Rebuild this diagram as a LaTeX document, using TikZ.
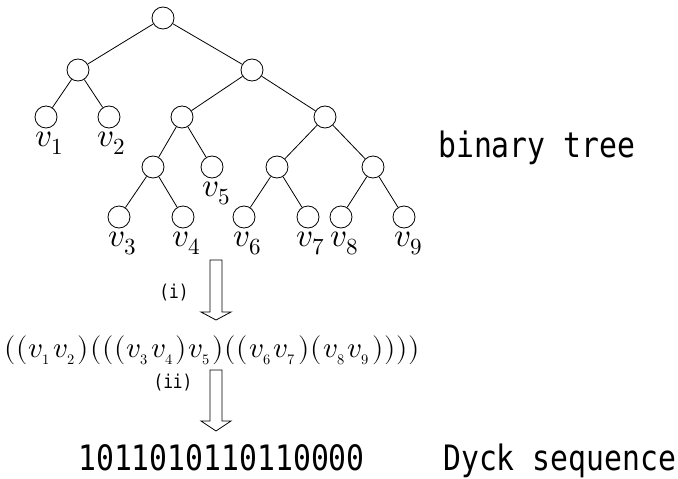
\documentclass[tikz,border=0pt]{standalone}
\usepackage{fontspec}
\usepackage{unicode-math}
\setmathfont{Latin Modern Math}
\newfontfamily\gothic[FakeStretch=0.85]{DejaVu Sans Mono}
\newcommand\vsub[1]{v_{\scriptscriptstyle #1}\kern3pt}
\newcommand\lp{(\kern0.8pt}
\newcommand\rp{)\kern0.8pt}
\tikzset{
  vert/.style={circle,draw,minimum size=22pt,inner sep=0pt,line width=0.8pt},
  vlab/.style={anchor=north,inner sep=0pt,font=\fontsize{33}{36}\selectfont},
  edge/.style={line width=0.8pt},
  hollow/.style={draw,line width=0.8pt,fill=white},
  gtext/.style={inner sep=0pt,font=\gothic\fontsize{35}{40}\selectfont},
  stext/.style={inner sep=0pt,font=\gothic\fontsize{19}{21}\selectfont}
}
\begin{document}
\begin{tikzpicture}[x=1pt,y=-1pt]
\useasboundingbox (0,0) rectangle (678,479);
% tree nodes
\node[vert] (r) at (163,18) {};
\node[vert] (a) at (78,70) {};
\node[vert] (b) at (252,70) {};
\node[vert] (v1) at (46,117) {};
\node[vert] (v2) at (109,117) {};
\node[vert] (c) at (182,117) {};
\node[vert] (d) at (325,117) {};
\node[vert] (e) at (153,167) {};
\node[vert] (v5) at (212,167) {};
\node[vert] (f) at (277,167) {};
\node[vert] (g) at (373,167) {};
\node[vert] (v3) at (119,217) {};
\node[vert] (v4) at (183,217) {};
\node[vert] (v6) at (244,217) {};
\node[vert] (v7) at (308,217) {};
\node[vert] (v8) at (341,217) {};
\node[vert] (v9) at (404,217) {};
% edges
\draw[edge] (r) -- (a);
\draw[edge] (r) -- (b);
\draw[edge] (a) -- (v1);
\draw[edge] (a) -- (v2);
\draw[edge] (b) -- (c);
\draw[edge] (b) -- (d);
\draw[edge] (c) -- (e);
\draw[edge] (c) -- (v5);
\draw[edge] (d) -- (f);
\draw[edge] (d) -- (g);
\draw[edge] (e) -- (v3);
\draw[edge] (e) -- (v4);
\draw[edge] (f) -- (v6);
\draw[edge] (f) -- (v7);
\draw[edge] (g) -- (v8);
\draw[edge] (g) -- (v9);
% labels
\node[vlab] (l1) at ([xshift=4pt,yshift=-3pt]v1.south) {$v_1$};
\node[vlab] (l2) at ([xshift=3pt,yshift=-3pt]v2.south) {$v_2$};
\node[vlab] (l3) at ([xshift=4pt,yshift=-3pt]v3.south) {$v_3$};
\node[vlab] (l4) at ([xshift=4pt,yshift=-3pt]v4.south) {$v_4$};
\node[vlab] (l5) at ([xshift=5pt,yshift=-3pt]v5.south) {$v_5$};
\node[vlab] (l6) at ([xshift=4pt,yshift=-3pt]v6.south) {$v_6$};
\node[vlab] (l7) at ([xshift=3pt,yshift=-3pt]v7.south) {$v_7$};
\node[vlab] (l8) at ([xshift=4pt,yshift=-3pt]v8.south) {$v_8$};
\node[vlab] (l9) at ([xshift=5pt,yshift=-3pt]v9.south) {$v_9$};
% texts
\node[gtext,anchor=base west] (bt) at (438,157) {binary tree};
\node[stext,anchor=center] (t1) at (174,293) {(i)};
\node[inner sep=0pt,anchor=west,font=\fontsize{29}{31}\selectfont] (expr) at (4,350)
  {$\lp\lp\vsub1\vsub2\rp\lp\lp\lp\vsub3\vsub4\rp\vsub5\rp\lp\lp\vsub6\vsub7\rp\lp\vsub8\vsub9\rp\rp\rp\rp$};
\node[stext,anchor=center] (t2) at (173,383) {(ii)};
\node[gtext,anchor=base west] (dy) at (78,470) {1011010110110000};
\node[gtext,anchor=base west] (ds) at (443,470) {Dyck sequence};
% hollow arrows
\draw[hollow] (210,260) -- (222,260) -- (222,312) -- (231,312) -- (216,320) -- (201,312) -- (210,312) -- cycle;
\draw[hollow] (210,370) -- (222,370) -- (222,421) -- (231,421) -- (216,431) -- (201,421) -- (210,421) -- cycle;
\end{tikzpicture}
\end{document}
